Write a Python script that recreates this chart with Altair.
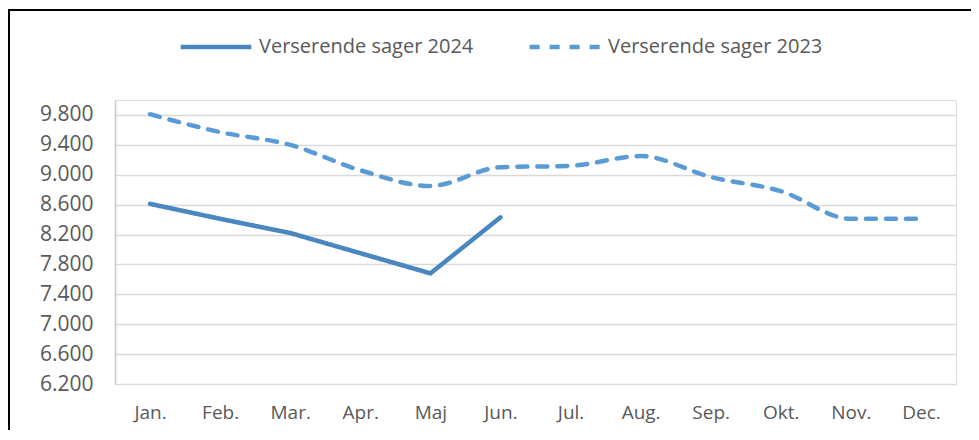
import altair as alt
import pandas as pd

months = ["Jan.", "Feb.", "Mar.", "Apr.", "Maj", "Jun.", "Jul.", "Aug.", "Sep.", "Okt.", "Nov.", "Dec."]
v2024 = [8610, 8410, 8220, 7950, 7680, 8430]
v2023 = [9810, 9570, 9400, 9060, 8850, 9100, 9120, 9250, 8970, 8780, 8410, 8410]
series = ["Verserende sager 2024", "Verserende sager 2023"]
y_ticks = [6200, 6600, 7000, 7400, 7800, 8200, 8600, 9000, 9400, 9800]

rows = []
for m, v in zip(months, v2024):
    rows.append({"month": m, "value": v, "series": series[0]})
for m, v in zip(months, v2023):
    rows.append({"month": m, "value": v, "series": series[1]})
df = pd.DataFrame(rows)

FONT = "Open Sans"
TXT = "#595959"

x_enc = alt.X("month:O", sort=months, scale=alt.Scale(domain=months, padding=0.5),
              axis=alt.Axis(title=None, labelAngle=0, ticks=False, domain=False,
                            labelPadding=19, labelFontSize=19, labelColor=TXT, labelFont=FONT))
y_enc = alt.Y("value:Q", scale=alt.Scale(domain=[6200, 10000], nice=False, zero=False),
              axis=alt.Axis(title=None, values=y_ticks, ticks=False,
                            labelExpr="replace(format(datum.value, ','), ',', '.')",
                            labelPadding=22, labelFontSize=21, labelColor=TXT, labelFont=FONT,
                            domainColor="#c8c8c8", domainWidth=1.5,
                            gridColor="#d9d9d9", gridWidth=1.5))
leg = dict(title=None, orient="none", legendX=63, legendY=-91,
           direction="horizontal", columns=2,
           symbolType="stroke", symbolSize=5000,
           symbolStrokeWidth=4.5, labelFontSize=20, labelLimit=400,
           labelColor=TXT, labelFont=FONT, labelOffset=5,
           columnPadding=46)
color_enc = alt.Color("series:N", scale=alt.Scale(domain=series, range=["#4a86bf", "#5b9bd5"]),
                      legend=alt.Legend(**leg))
dash_enc = alt.StrokeDash("series:N", scale=alt.Scale(domain=series, range=[[1, 0], [10, 10]]),
                          legend=alt.Legend(**leg))

base = alt.Chart(df)
line24 = base.transform_filter(alt.datum.series == series[0]).mark_line(
    strokeWidth=4.5, strokeCap="round", strokeJoin="round", interpolate="linear"
).encode(x=x_enc, y=y_enc, color=color_enc, strokeDash=dash_enc)
line23 = base.transform_filter(alt.datum.series == series[1]).mark_line(
    strokeWidth=4.5, strokeCap="round", strokeJoin="round", interpolate="monotone"
).encode(x=x_enc, y=y_enc, color=color_enc, strokeDash=dash_enc)

one = pd.DataFrame({"f": [0]})
frame_left = alt.Chart(one).mark_rule(stroke="black", strokeWidth=2, clip=False).encode(
    x=alt.value(-106), y=alt.value(-91), y2=alt.value(340))
frame_top = alt.Chart(one).mark_rule(stroke="black", strokeWidth=2, clip=False).encode(
    x=alt.value(-107), x2=alt.value(870), y=alt.value(-90))

chart = alt.layer(frame_left, frame_top, line24, line23).properties(
    width=841, height=284,
    autosize=alt.AutoSizeParams(type="none"),
    padding={"left": 107, "top": 92, "right": 15, "bottom": 46},
).configure_view(stroke="#cfcfcf", strokeWidth=1.5).configure(background="white")

chart.save("out.html", embed_options={"renderer": "svg", "actions": False})
